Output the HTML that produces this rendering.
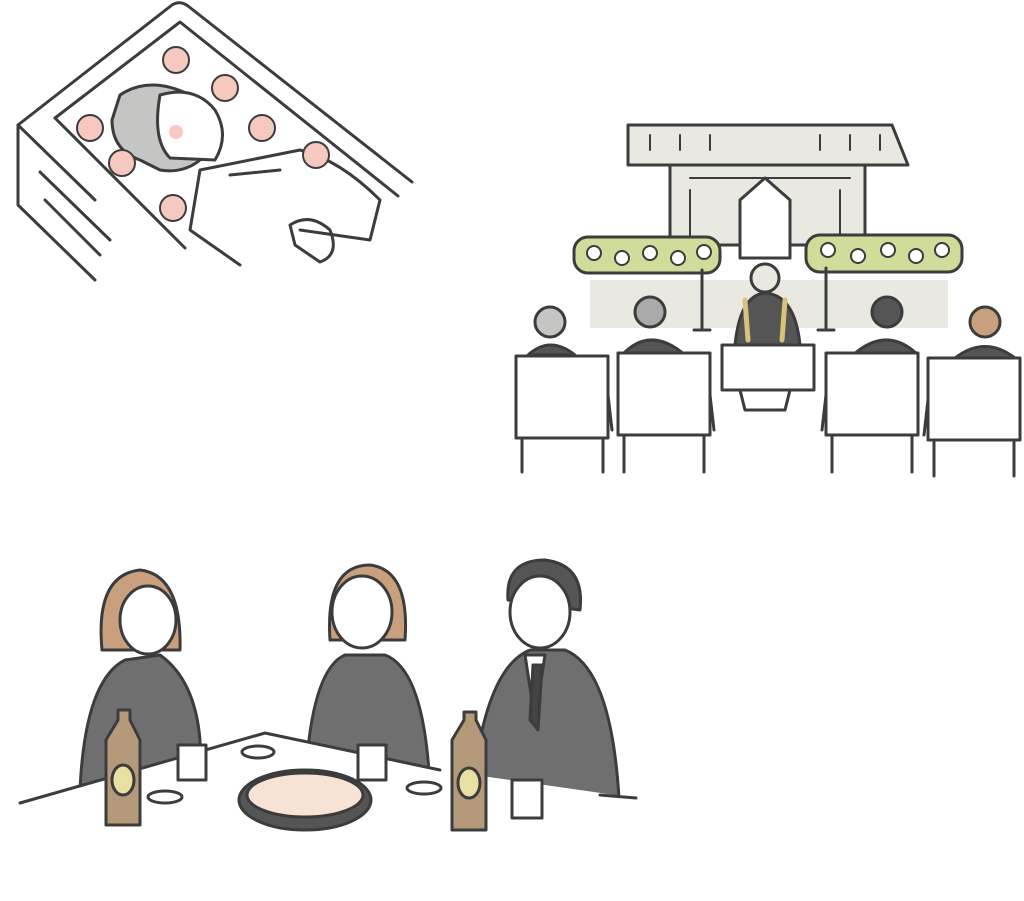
<!DOCTYPE html>
<html><head><meta charset="utf-8"><style>html,body{margin:0;padding:0;background:#fff}svg{display:block}</style></head>
<body>
<svg width="1024" height="901" viewBox="0 0 1024 901" xmlns="http://www.w3.org/2000/svg" fill="none" stroke="#3c3c3c" stroke-width="3" stroke-linecap="round" stroke-linejoin="round">
<!-- Coffin -->
<path d="M18 125 L172 5 Q180 0 188 6 L412 182"/>
<path d="M18 125 L18 205 L95 280"/>
<path d="M18 125 L95 200"/>
<path d="M55 118 L180 22 L398 196"/>
<path d="M55 118 L185 248"/>
<path d="M40 172 L110 240 M45 200 L100 255"/>
<path d="M120 95 Q150 75 190 95 L210 150 Q190 175 160 170 L140 160 Q112 150 112 120 Z" fill="#c5c5c3"/>
<path d="M160 95 Q195 85 215 110 Q230 135 215 160 L170 158 Q152 140 160 95Z" fill="#fff"/>
<circle cx="176" cy="132" r="7" fill="#f5c9c0" stroke="none"/>
<path d="M200 170 L300 150 Q340 160 380 200 L370 240 L300 230 M200 170 L190 230 L240 265 M230 175 L280 170"/>
<path d="M290 225 Q310 212 330 230 Q340 255 320 262 L295 245Z"/>
<g fill="#f5c9c0" stroke-width="2">
<circle cx="176" cy="60" r="13"/><circle cx="225" cy="88" r="13"/><circle cx="262" cy="128" r="13"/>
<circle cx="90" cy="128" r="13"/><circle cx="122" cy="163" r="13"/><circle cx="316" cy="155" r="13"/><circle cx="173" cy="208" r="13"/>
</g>
<!-- Altar -->
<rect x="590" y="280" width="358" height="48" fill="#e9e8e1" stroke="none"/>
<path d="M670 165 L865 165 L865 245 L670 245 Z" fill="#e9e8e1"/>
<path d="M628 125 L892 125 L908 165 L628 165 Z" fill="#e9e8e1"/>
<path d="M650 135 L650 150 M680 135 L680 150 M710 135 L710 150 M820 135 L820 150 M850 135 L850 150 M880 135 L880 150 M690 178 L850 178 M690 190 L690 240 M840 190 L840 240" stroke-width="2"/>
<path d="M740 200 L765 178 L790 200 L790 258 L740 258 Z" fill="#fff"/>
<rect x="574" y="237" width="146" height="36" rx="14" fill="#cfdc9a"/>
<rect x="806" y="235" width="156" height="37" rx="14" fill="#cfdc9a"/>
<g fill="#fff" stroke-width="2">
<circle cx="594" cy="253" r="7"/><circle cx="622" cy="258" r="7"/><circle cx="650" cy="253" r="7"/><circle cx="678" cy="258" r="7"/><circle cx="704" cy="252" r="7"/>
<circle cx="828" cy="250" r="7"/><circle cx="858" cy="256" r="7"/><circle cx="888" cy="250" r="7"/><circle cx="916" cy="256" r="7"/><circle cx="942" cy="250" r="7"/>
</g>
<path d="M702 270 L702 330 M826 268 L826 330"/>
<path d="M694 330 L710 330 M818 330 L834 330"/>
<circle cx="765" cy="278" r="14" fill="#e9e8e1"/>
<path d="M735 345 Q740 295 765 293 Q795 295 800 345 Z" fill="#555"/>
<path d="M745 300 L748 340 M785 300 L782 340" stroke="#d9c37a" stroke-width="5"/>
<rect x="722" y="345" width="92" height="45" fill="#fff"/>
<path d="M740 390 L745 410 L785 410 L790 390"/>
<g>
<circle cx="550" cy="322" r="15" fill="#c5c5c3"/><path d="M528 355 Q550 335 575 355Z" fill="#555"/>
<rect x="516" y="356" width="92" height="82" fill="#fff"/><path d="M522 438 L522 472 M603 438 L603 472 M608 395 L612 430"/>
<circle cx="650" cy="312" r="15" fill="#aaa"/><path d="M622 355 Q650 325 685 355Z" fill="#555"/>
<rect x="618" y="353" width="92" height="82" fill="#fff"/><path d="M624 435 L624 472 M704 435 L704 472 M710 395 L714 430"/>
<circle cx="887" cy="312" r="15" fill="#555"/><path d="M853 355 Q887 325 918 355Z" fill="#555"/>
<rect x="826" y="353" width="92" height="82" fill="#fff"/><path d="M832 435 L832 472 M912 435 L912 472 M826 395 L822 430"/>
<circle cx="985" cy="322" r="15" fill="#c8a07e"/><path d="M955 358 Q985 335 1015 358Z" fill="#555"/>
<rect x="928" y="358" width="92" height="82" fill="#fff"/><path d="M934 440 L934 476 M1014 440 L1014 476 M928 400 L924 435"/>
</g>
<!-- Bottom people -->
<path d="M80 790 Q85 680 125 660 L160 655 Q195 680 200 740 L200 790 Z" fill="#6f6f6f"/>
<path d="M102 650 Q95 575 140 570 Q182 575 180 650 Z" fill="#c8a07e"/>
<ellipse cx="148" cy="620" rx="28" ry="34" fill="#fff"/>
<path d="M305 790 Q310 670 345 655 L385 655 Q425 670 430 790 Z" fill="#6f6f6f"/>
<path d="M330 640 Q325 565 370 565 Q410 570 405 640 Z" fill="#c8a07e"/>
<ellipse cx="362" cy="612" rx="30" ry="36" fill="#fff"/>
<path d="M470 820 Q480 670 530 650 L565 650 Q615 670 620 820 Z" fill="#6f6f6f"/>
<path d="M525 655 L545 655 L535 720 Z" fill="#fff"/>
<path d="M533 665 L530 720 L538 730 L542 665Z" fill="#444"/>
<path d="M508 600 Q505 560 545 560 Q585 565 580 610 Z" fill="#555"/>
<ellipse cx="540" cy="612" rx="30" ry="36" fill="#fff"/>
<!-- table -->
<path d="M20 805 L265 733 L440 770 L636 798 L636 901 L20 901 Z" fill="#fff" stroke="none"/>
<path d="M20 803 L265 733 L440 770 M600 795 L636 798"/>
<ellipse cx="305" cy="800" rx="66" ry="30" fill="#555"/>
<ellipse cx="305" cy="795" rx="58" ry="22" fill="#f6e3d6"/>
<path d="M106 740 L106 825 L140 825 L140 740 L130 720 L130 710 L118 710 L118 720 Z" fill="#b49a7a"/>
<ellipse cx="123" cy="780" rx="11" ry="15" fill="#e8dfa3"/>
<path d="M452 740 L452 830 L486 830 L486 740 L476 720 L476 712 L464 712 L464 720 Z" fill="#b49a7a"/>
<ellipse cx="469" cy="783" rx="11" ry="15" fill="#e8dfa3"/>
<rect x="178" y="745" width="28" height="35" fill="#fff"/>
<rect x="358" y="745" width="28" height="35" fill="#fff"/>
<rect x="512" y="780" width="30" height="38" fill="#fff"/>
<ellipse cx="258" cy="752" rx="16" ry="6" fill="#fff"/>
<ellipse cx="165" cy="797" rx="17" ry="6" fill="#fff"/>
<ellipse cx="424" cy="788" rx="17" ry="6" fill="#fff"/>
</svg>
</body></html>
